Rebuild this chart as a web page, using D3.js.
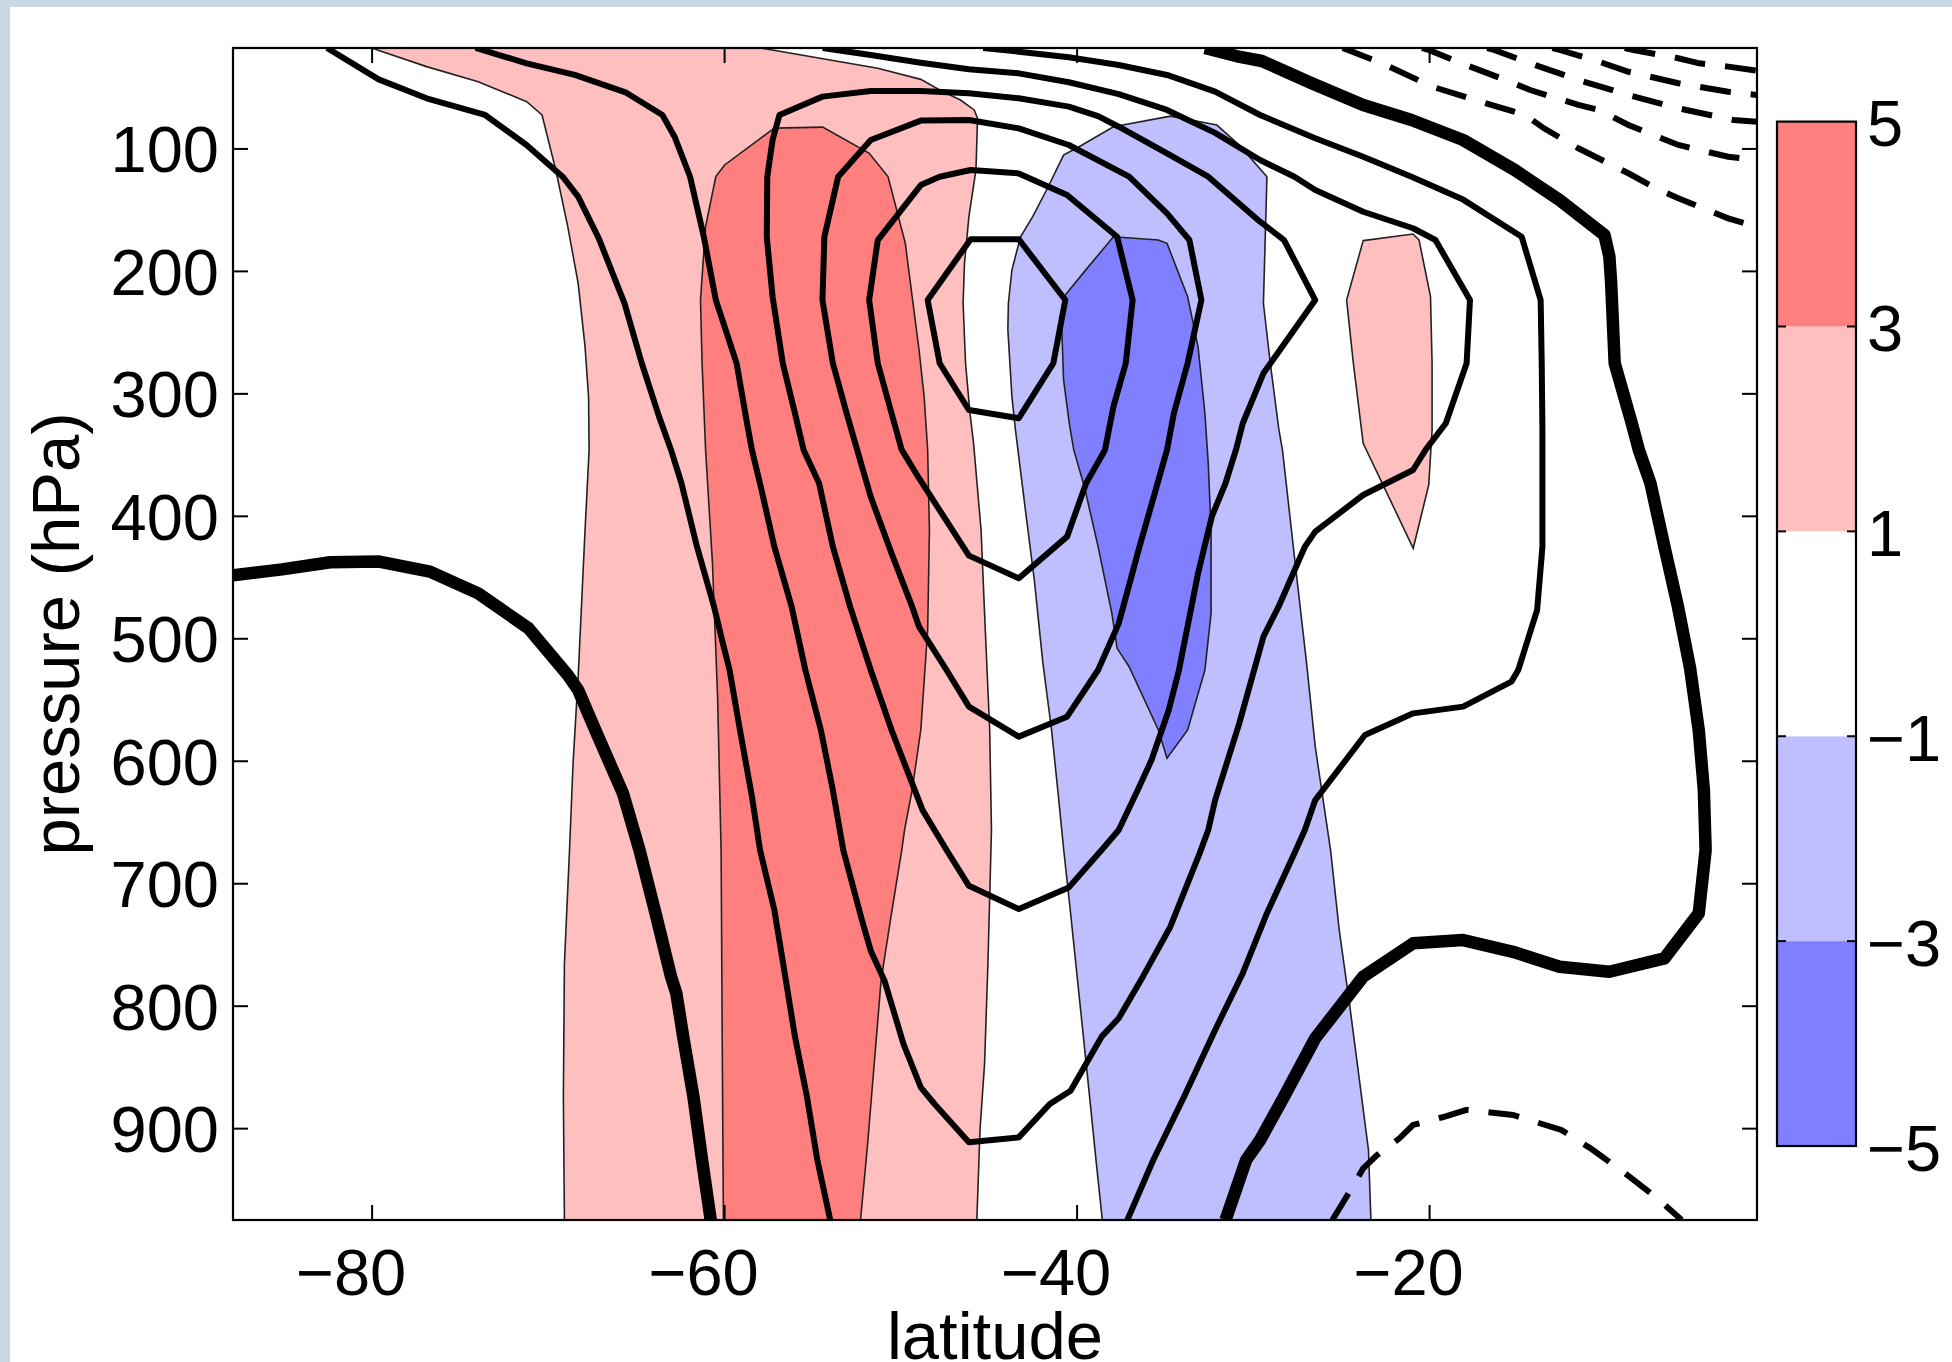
<!DOCTYPE html>
<html><head><meta charset="utf-8">
<script src="https://cdn.jsdelivr.net/npm/d3@7"></script>
<style>
body{margin:0;background:#c9d8e3;}
svg{display:block;}
text{font-family:"Liberation Sans",Arial,Helvetica,sans-serif;fill:#000;}
</style>
</head><body>
<svg id="chart" width="1952" height="1362"></svg>
<script>
// ---------------- data ----------------
const latDomain = [-87.864, -1.395];
const presDomain = [18, 975];
const xTicks = [-80, -60, -40, -20];
const yTicks = [100, 200, 300, 400, 500, 600, 700, 800, 900];
const cbLevels = [-5, -3, -1, 1, 3, 5];
const cbColors = ["#7f7fff", "#bfbfff", "#ffffff", "#ffbfbf", "#ff7f7f"];

// filled regions ([latitude, pressure])
const pinkLeft = [[-80.0,18],[-76.88,33.2],[-73.95,45.5],[-71.2,61.8],[-70.33,72.7],[-69.55,117.6],[-68.87,163.9],[-68.28,210.2],[-67.89,261.9],[-67.69,302.7],[-67.66,346.2],[-67.89,411.6],[-68.28,531.3],[-68.57,602.1],[-68.77,672.9],[-69.06,765.4],[-69.12,874],[-69.06,975]];
const pinkRight = [[-57.92,18],[-51.28,34.6],[-48.84,43.6],[-47.77,52.3],[-46.59,60.5],[-45.81,68.6],[-45.62,75.4],[-45.71,117.6],[-46.11,155.7],[-46.36,193.8],[-46.44,226.4],[-46.3,275.4],[-46.05,316.2],[-45.85,340],[-45.42,411.6],[-45.18,493.2],[-44.93,574.9],[-44.83,656.5],[-45.03,765.4],[-45.22,847],[-45.48,901.5],[-45.66,975]];
const redEdge = [[-60.04,975],[-60.11,819.8],[-60.17,672.9],[-60.37,547.6],[-60.66,438.8],[-61.05,346.2],[-61.25,275.4],[-61.34,223.8],[-61.05,163.9],[-60.47,123],[-59.97,113.5],[-57.15,83.4],[-54.41,82.6],[-51.78,103.8],[-50.7,123],[-50.11,155.7],[-49.72,177.4],[-49.33,221],[-48.94,264.4],[-48.65,302.7],[-48.45,346.2],[-48.35,411.6],[-48.45,493.2],[-48.84,574.9],[-49.33,623.9],[-49.76,656.5],[-49.92,672.9],[-50.5,724.5],[-51.09,779],[-51.48,847],[-51.87,915],[-52.26,975]];
const blueEdge = [[-38.54,975],[-38.88,928.7],[-39.36,860.6],[-39.85,792.6],[-40.34,724.5],[-40.73,672.9],[-41.03,629.3],[-41.42,574.9],[-41.91,520.5],[-42.4,452.4],[-42.88,398],[-43.47,329.9],[-43.67,302.7],[-43.9,248.1],[-43.87,226.4],[-43.67,199.3],[-43.18,172.1],[-42.49,155.7],[-41.61,131.3],[-40.74,105.4],[-39.86,98.6],[-37.91,82.3],[-34.68,73.6],[-32.04,80.9],[-30.77,97.3],[-29.2,123.1],[-29.4,226.4],[-29.01,275.4],[-28.52,329.9],[-28.32,346.2],[-27.64,433.4],[-26.95,520.5],[-26.46,588.5],[-25.59,672.9],[-25.1,738.1],[-24.52,798],[-23.93,863.3],[-23.44,917.8],[-23.3,975]];
const darkBlue = [[-40.64,219.6],[-39.56,200.6],[-37.91,172.1],[-35.36,174.8],[-34.87,177.5],[-33.7,221],[-33.11,261.8],[-32.72,316.2],[-32.53,357.2],[-32.37,411.6],[-32.37,479.6],[-32.72,525.9],[-33.7,574.9],[-34.87,598],[-35.36,574.9],[-37.02,523.2],[-37.7,508.2],[-38,479.6],[-38.78,425.2],[-39.56,376.2],[-40.16,346.2],[-40.4,326],[-40.74,288.9],[-40.84,248.1]];
const smallPink = [[-23.74,175.3],[-20.91,169.9],[-20.57,174.8],[-19.92,221],[-19.83,275.4],[-19.83,329.9],[-20.02,374.8],[-20.9,426.5],[-23.74,340.8],[-24.3,275],[-24.68,223.9]];

// contour lines
const zeroLeft = [[-87.864,448.5],[-85.08,443.7],[-82.35,437.9],[-79.57,437.4],[-76.69,445.6],[-73.95,463.3],[-71.1,491.8],[-68.87,530],[-68.28,542.2],[-67.31,574.9],[-65.74,626.6],[-64.8,672.9],[-63.89,724.5],[-63.01,776.3],[-62.71,789.9],[-62.32,825.3],[-61.74,874.3],[-61.25,926],[-60.76,975]];
const zeroRight = [[-32.72,18],[-30.73,25.3],[-29.49,28.6],[-26.66,46.8],[-23.74,64.5],[-21,76.8],[-18.07,93.1],[-15.14,117.6],[-12.6,142.1],[-10.05,170.7],[-9.77,188.4],[-9.67,210.1],[-9.47,275.4],[-8.5,324.4],[-8.1,346.2],[-7.44,373.4],[-6.65,425.2],[-5.88,474.2],[-5.19,524.5],[-4.7,574.9],[-4.41,623.9],[-4.31,672.9],[-4.7,724.6],[-6.65,761.4],[-9.77,772.3],[-12.6,768.2],[-15.24,756],[-18.07,746.4],[-20.91,749.1],[-23.74,776.3],[-26.46,826.6],[-28.23,874.3],[-29.6,910],[-30.38,926],[-31.55,975]];
const c6Left = [[-82.53,18],[-79.6,43.6],[-76.88,59.1],[-73.56,72.7],[-71.21,97.2],[-69.16,123.1],[-68.28,139.4],[-67.11,173.4],[-65.65,226.5],[-64.67,275.4],[-63.69,319],[-63.01,346.2],[-62.42,373.4],[-61.54,425.2],[-60.57,474.2],[-60.07,504.1],[-59.69,525.9],[-59.1,574.9],[-58.42,629.3],[-57.96,672.9],[-57.15,721.8],[-56.56,773.5],[-55.98,825.3],[-55.3,874.3],[-54.71,926],[-53.98,975]];
const c6Right = [[-37.12,975],[-35.65,926],[-33.9,874.3],[-32.14,819.8],[-30.57,773.5],[-29.2,724.5],[-27.64,675.6],[-27.05,656.5],[-26.46,632.1],[-23.64,579],[-20.9,561.3],[-18.07,555.8],[-15.33,535.4],[-14.94,525.9],[-13.87,476.9],[-13.57,425.2],[-13.57,329.9],[-13.61,275.4],[-13.67,223.8],[-14.75,172.1],[-18.07,141.8],[-21,123.1],[-23.74,106.8],[-26.46,91.7],[-29.59,72.7],[-32.14,53.6],[-34.87,40],[-37.61,31.9],[-40.44,25.6],[-43.28,21],[-45.3,18]];
const c5 = [[-74.1,18],[-71.21,30.5],[-68.47,40],[-65.55,54.5],[-63.5,72.7],[-62.81,90.4],[-61.93,123.1],[-61.15,172.1],[-60.47,223.8],[-59.97,245.6],[-59.29,275.5],[-58.7,324.3],[-58.42,346.2],[-57.92,376.2],[-57.15,425.2],[-56.17,474.2],[-55.39,525.9],[-54.51,574.9],[-53.83,623.9],[-53.24,672.9],[-52.17,730.6],[-51.68,755.1],[-50.9,779.6],[-49.82,831.3],[-48.84,866.7],[-48.06,880.3],[-46.11,911.6],[-43.28,907.5],[-41.52,880.3],[-40.34,869.4],[-38.58,825.3],[-37.61,810.3],[-36.24,776.3],[-34.68,735.5],[-33.02,675.6],[-32.53,656.5],[-32.14,632.1],[-30.77,569.5],[-29.4,498.7],[-28.54,474.2],[-27.05,425.2],[-26.46,412.9],[-23.74,383],[-20.91,362.6],[-20.2,346.2],[-19.05,324.4],[-17.87,275.4],[-17.68,223.8],[-19.64,174.8],[-20.91,165.2],[-23.74,151.7],[-26.46,134],[-27.64,123.1],[-29.59,109.5],[-32.14,87.3],[-34.87,68.6],[-37.61,55.6],[-40.44,46],[-43.28,38.7],[-46.11,35.4],[-48.84,30],[-51.68,23.7],[-53.64,19.6],[-54.4,18]];
const c4 = [[-56.86,72.7],[-57.25,93.1],[-57.55,123.1],[-57.58,172.1],[-57.25,221],[-56.67,275.4],[-55.98,316.2],[-55.49,346.2],[-54.61,373.4],[-53.83,425.2],[-52.85,474.2],[-51.68,525.9],[-50.5,574.9],[-49.33,618.5],[-48.74,640.3],[-47.38,672.9],[-46.11,702.1],[-43.28,721.1],[-40.44,703.4],[-38.58,672.9],[-37.61,656.5],[-36.53,623.9],[-35.75,599.4],[-34.77,558.5],[-34.19,525.9],[-33.11,447],[-32.33,400.7],[-31.55,373.4],[-30.96,346.2],[-30.57,324.4],[-29.4,283.6],[-26.46,223.8],[-28.23,174.8],[-29.59,159.8],[-32.53,123.1],[-34.87,104],[-37.61,82.3],[-38.78,73.6],[-40.44,65.9],[-43.28,59.1],[-46.11,55],[-48.84,53.1],[-51.68,53.1],[-54.42,57.7]];
const c3 = [[-53.53,123.1],[-51.68,93.1],[-48.84,77.3],[-46.11,76.8],[-43.28,83.6],[-40.44,97.2],[-37.02,123.1],[-34.87,153],[-33.6,174.8],[-32.92,223.8],[-33.7,275.4],[-34.48,316.2],[-34.87,346.2],[-35.46,376.2],[-36.43,425.2],[-37.61,487.8],[-38.78,525.9],[-40.54,564],[-43.28,580.3],[-46.11,555.8],[-47.38,525.9],[-48.94,490.5],[-49.33,474.2],[-50.5,430.6],[-51.68,384.4],[-52.45,346.2],[-53.05,316.2],[-53.83,275.4],[-54.42,223.8],[-54.31,172.1]];
const c2 = [[-51.28,174.8],[-48.84,129.9],[-47.77,123.1],[-46.01,117.6],[-43.28,120.4],[-40.54,138],[-37.7,172.1],[-36.82,223.8],[-37.21,275.4],[-37.91,310.8],[-38.39,346.2],[-39.46,373.4],[-40.54,417],[-43.28,451],[-46.11,432.5],[-48.94,369.3],[-49.92,346.2],[-50.5,316.2],[-51.28,275.4],[-51.77,223.8]];
const c1 = [[-48.45,223.8],[-46.01,174.2],[-43.28,174.2],[-40.64,223.8],[-41.32,275.4],[-43.28,320.3],[-46.11,313.6],[-47.77,275.4]];

// dashed (negative) contours
const dTop1 = [[-24.9,18],[-24.61,19.6],[-22.66,30.5],[-19.82,49.6],[-17.09,61.8],[-14.55,72.7],[-13.48,83.6],[-11.53,99.9],[-8.69,120.3],[-7.13,132.6],[-5.86,140.7],[-3.03,157.1],[-1.395,163.9]];
const dTop2 = [[-20.4,18],[-20.02,19.6],[-18.17,30.5],[-15.92,42.7],[-14.26,52.3],[-11.53,64.5],[-10.35,68.6],[-8.69,80.9],[-5.86,97.2],[-3.03,106.8],[-1.395,109.5]];
const dTop3 = [[-16.7,18],[-16.31,19.6],[-14.26,30.5],[-11.53,44.1],[-8.69,56.4],[-5.86,67.2],[-2.73,76.8],[-1.395,78.2]];
const dTop4 = [[-13.0,18],[-12.59,19.6],[-10.35,29.2],[-8.69,37.4],[-5.86,46.8],[-3.03,53.7],[-1.395,56.4]];
const dTop5 = [[-8.9,18],[-8.4,19.6],[-5.86,26.4],[-4.67,30.5],[-3.03,33.2],[-1.395,36.5]];
const dBottom = [[-25.49,975],[-24.22,945],[-23.74,932.8],[-22.95,922],[-21.68,908.3],[-20.91,897.4],[-19.24,891.1],[-17.87,885.1],[-15.24,889.2],[-12.5,901.5],[-10.84,916.5],[-8.89,936.8],[-6.93,958.7],[-5.67,975]];

// ---------------- drawing ----------------
const W = 1952, H = 1362;
const plot = {left: 233, right: 1757, top: 48, bottom: 1220};
const FONT = 65;
const TITLE_FONT = 67;

const svg = d3.select("#chart");
svg.append("rect").attr("x", 10).attr("y", 7).attr("width", W - 10).attr("height", H - 7).attr("fill", "#fff");

const x = d3.scaleLinear().domain(latDomain).range([plot.left, plot.right]);
const y = d3.scaleLinear().domain(presDomain).range([plot.top, plot.bottom]);

svg.append("defs").append("clipPath").attr("id", "clip")
  .append("rect").attr("x", plot.left).attr("y", plot.top)
  .attr("width", plot.right - plot.left).attr("height", plot.bottom - plot.top);

const g = svg.append("g").attr("clip-path", "url(#clip)");
const line = d3.line().x(d => x(d[0])).y(d => y(d[1]));
const ring = d3.line().x(d => x(d[0])).y(d => y(d[1])).curve(d3.curveLinearClosed);

// fills
const fills = [
  {pts: pinkLeft.concat(pinkRight.slice().reverse()), color: cbColors[3]},
  {pts: redEdge, color: cbColors[4]},
  {pts: blueEdge, color: cbColors[1]},
  {pts: darkBlue, color: cbColors[0]},
  {pts: smallPink, color: cbColors[3]}
];
fills.forEach(f => g.append("path").attr("d", ring(f.pts)).attr("fill", f.color).attr("stroke", "none"));

// thin fill boundaries
[pinkLeft, pinkRight, redEdge, blueEdge].forEach(b =>
  g.append("path").attr("d", line(b)).attr("fill", "none").attr("stroke", "#222").attr("stroke-width", 1.6));
[darkBlue, smallPink].forEach(b =>
  g.append("path").attr("d", ring(b)).attr("fill", "none").attr("stroke", "#222").attr("stroke-width", 1.6));

// solid contours
[c6Left, c6Right, c5].forEach(c =>
  g.append("path").attr("d", line(c)).attr("fill", "none").attr("stroke", "#000")
   .attr("stroke-width", 6).attr("stroke-linejoin", "round"));
[c4, c3, c2, c1].forEach(c =>
  g.append("path").attr("d", ring(c)).attr("fill", "none").attr("stroke", "#000")
   .attr("stroke-width", 6).attr("stroke-linejoin", "round"));
// zero contour
[zeroLeft, zeroRight].forEach(c =>
  g.append("path").attr("d", line(c)).attr("fill", "none").attr("stroke", "#000")
   .attr("stroke-width", 12.5).attr("stroke-linejoin", "round"));
// dashed negative contours
[dTop1, dTop2, dTop3, dTop4, dTop5, dBottom].forEach(c =>
  g.append("path").attr("d", line(c)).attr("fill", "none").attr("stroke", "#000")
   .attr("stroke-width", 6).attr("stroke-dasharray", "31,20"));

// axes
const ax = svg.append("g");
const bottomAxis = d3.axisBottom(x).tickValues(xTicks).tickSizeInner(-15).tickSizeOuter(0)
  .tickPadding(30).tickFormat(d => "\u2212" + Math.abs(d));
const topAxis = d3.axisTop(x).tickValues(xTicks).tickSizeInner(-15).tickSizeOuter(0).tickFormat("");
const leftAxis = d3.axisLeft(y).tickValues(yTicks).tickSizeInner(-15).tickSizeOuter(0).tickPadding(14);
const rightAxis = d3.axisRight(y).tickValues(yTicks).tickSizeInner(-15).tickSizeOuter(0).tickFormat("");

function styleAxis(sel) {
  sel.select(".domain").remove();
  sel.selectAll(".tick line").attr("stroke", "#000").attr("stroke-width", 2);
  sel.selectAll(".tick text").style("font-size", FONT + "px")
     .style("font-family", '"Liberation Sans",Arial,Helvetica,sans-serif').attr("fill", "#000");
}
const gb = ax.append("g").attr("transform", `translate(0,${plot.bottom})`).call(bottomAxis).call(styleAxis);
gb.selectAll(".tick text").attr("dx", -21).attr("dy", "0.69em");
ax.append("g").attr("transform", `translate(0,${plot.top})`).call(topAxis).call(styleAxis);
const gl = ax.append("g").attr("transform", `translate(${plot.left},0)`).call(leftAxis).call(styleAxis);
gl.selectAll(".tick text").attr("dy", "0.36em");
ax.append("g").attr("transform", `translate(${plot.right},0)`).call(rightAxis).call(styleAxis);

ax.append("rect").attr("x", plot.left).attr("y", plot.top)
  .attr("width", plot.right - plot.left).attr("height", plot.bottom - plot.top)
  .attr("fill", "none").attr("stroke", "#000").attr("stroke-width", 2.2);

// axis titles
svg.append("text").attr("x", (plot.left + plot.right) / 2).attr("y", 1359)
  .attr("text-anchor", "middle").style("font-size", TITLE_FONT + "px").text("latitude");
svg.append("text").attr("transform", `translate(79,${(plot.top + plot.bottom) / 2}) rotate(-90)`)
  .attr("text-anchor", "middle").style("font-size", TITLE_FONT + "px").text("pressure (hPa)");

// colorbar
const cb = {left: 1777, right: 1856, top: 121.6, bottom: 1146};
const cy = d3.scaleLinear().domain([-5, 5]).range([cb.bottom, cb.top]);
const cbg = svg.append("g");
for (let i = 0; i < cbColors.length; i++) {
  cbg.append("rect").attr("x", cb.left).attr("y", cy(cbLevels[i + 1]))
    .attr("width", cb.right - cb.left).attr("height", cy(cbLevels[i]) - cy(cbLevels[i + 1]))
    .attr("fill", cbColors[i]);
}
cbLevels.slice(1, -1).forEach(v => {
  cbg.append("line").attr("x1", cb.left).attr("x2", cb.left + 9).attr("y1", cy(v)).attr("y2", cy(v))
    .attr("stroke", "#000").attr("stroke-width", 2);
  cbg.append("line").attr("x1", cb.right - 9).attr("x2", cb.right).attr("y1", cy(v)).attr("y2", cy(v))
    .attr("stroke", "#000").attr("stroke-width", 2);
});
cbg.append("rect").attr("x", cb.left).attr("y", cb.top).attr("width", cb.right - cb.left)
  .attr("height", cb.bottom - cb.top).attr("fill", "none").attr("stroke", "#000").attr("stroke-width", 2.2);
cbLevels.forEach(v => {
  cbg.append("text").attr("x", 1867).attr("y", cy(v)).attr("dy", "0.38em")
    .style("font-size", FONT + "px").text(v < 0 ? "\u2212" + Math.abs(v) : String(v));
});
</script>
</body></html>
